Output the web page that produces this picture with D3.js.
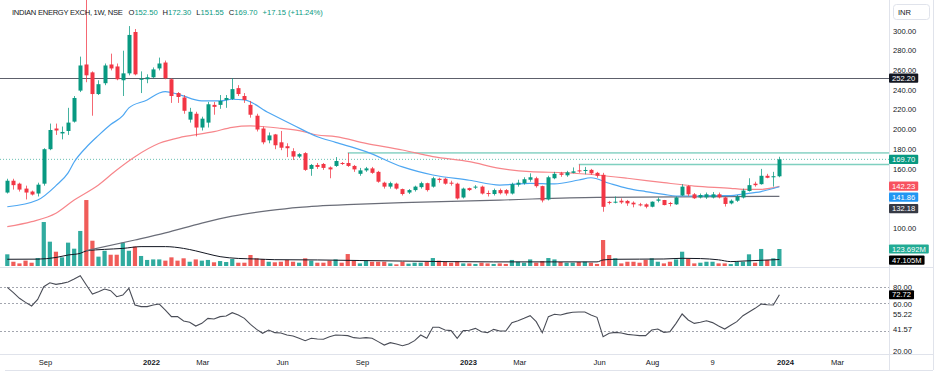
<!DOCTYPE html>
<html><head><meta charset="utf-8">
<script src="https://cdn.jsdelivr.net/npm/d3@7"></script>
<style>
body{margin:0;background:#fff;}
svg{display:block;font-family:"Liberation Sans",Arial,sans-serif;}
</style>
</head><body>
<svg id="c" width="940" height="379"></svg>
<script>
// ---------- DATA ----------
const firstWeek = "2021-07-19";   // weekly bars, Monday starts
const open  = [136,148,145,140,137,135,145,180,201,196,198.5,208,239.5,266,258,236,247,266,264,250,257,299,251,251,253,262,268,251,237,232.5,210,216,202,207,225,225,230,231,242,234,225,214,201,189,195,187,183,178,172.5,176,160,164,165,161.5,163,166,166,163,155,158.5,160.5,157,146,142,145,139.5,136,138.5,141.5,145.5,142,150,150,146,145,131,140.5,141,142,135.5,134.5,138.5,138.5,135,144,145.5,149,150.5,142.5,129,150.5,155.5,153.5,156,158.5,158.2,159,156,154,126.5,125.7,127.7,127.5,125.7,124,124,121.6,127.7,128.4,125.4,124,133,142.5,134.2,131,131.1,131,134.2,131,125,127.7,131,137.6,145,144.5,153,151.5,152.5];
const high  = [150,150,146,143,138,146,181,206,206,203,222,234,274,335,259,250,267,277,267,280,305,302,259,256,263,273,270,252,238,235,222,218,213,228,228,235,235,252,245,237,229,216,203,197,195.5,198.5,186,181,176,177,165,166,166,162.5,172,167,176.2,164,161,162,162,158,147,147,146,140,139.5,143,147,146,152,151,151,148,146,141,141,143.5,143,138,140,140,139.5,146,149,151.5,155.5,152,143,153,157,157,158,161.5,164.5,162,160,157,156,127.5,132,130,128.5,127,125.5,125,127,131,128.5,126.5,132,144.5,143.5,135.5,135,136,136.5,136,132,129,133.5,140,150.5,147,160,155,157,172.3];
const low   = [135,139,137,129,133,132,143,179,194.5,190,194.5,207,238,248,214,235,245,260,250,234,255,255,237,247,252,260,251,227,227,216,207,193,199,202,215,221,222,230,234,227,212,198,185,186,180,179,172,169,171,158,153,160,159,150.5,162,164,162,157,153,157,155,146,140,140,139,133,134.5,137,140,137,141,146,144,143,129,130,137.5,139.5,134,132,133,134,133,134,142,144,147,141,126,128,149.5,152,152,155.5,156,154.5,154,151,116.5,124,125,124.5,122.5,121,122,120,121,126,123,122,123.5,132.5,132.5,129.5,130,129.5,130,130,121.8,124,126.5,130,137,142,144,150.5,142,151.55];
const close = [148,143.5,139,136,134,144,180,199.5,199,197.5,207,232,265,255,236,246,265,262,251,257,296,256,251.5,253,261,267,252,234,233,219,218,202,211,225.6,223,229,232,241,236,230,215,200,187,194,184,181.5,181,172.5,175,159,164,162,161,159.5,168,165,163,159.5,158.5,160.5,156,147,142,145.5,140,134.5,138.5,142,145.5,138.5,150.5,148.7,145,145,130,140,138.5,142,135,134.8,138.5,135.3,135,144.5,146,149.5,151.5,142.5,128,151.5,155,154,156.5,157.5,158,158.9,155.5,153,121.5,125.7,126.7,126,125,124,123.3,121.6,126.7,129,123.3,124.8,131,142,134.2,130.2,133.5,134.2,134.2,131.1,124.4,127.7,131.8,138,143.5,143.5,153,151,152.55,169.7];
const volumeM = [85,31,19,39,24,58,320,177,104,63,170,126,255,480,184,68,111,82,82,170,111,141,73,44,48,48,39,63,39,56,31,48,39,44,27,36,29,51,24,24,80,56,51,31,27,31,44,31,24,56,39,24,24,39,48,24,87,39,19,39,31,31,31,19,12,31,17,24,24,29,58,39,31,24,34,19,19,15,24,19,15,19,15,44,31,24,48,24,36,58,48,29,24,24,29,31,24,15,189,80,56,19,31,31,24,44,56,31,19,31,48,104,51,19,24,31,31,19,19,14,31,31,85,24,124,44,56,123.692];
const rsi = [79.7,74.7,69.4,65.6,62.2,68.4,80.3,84,82.5,83.4,84.7,87.5,90.6,81.9,73.4,75.6,78.1,76.6,70.9,72.5,78.8,63.1,61.6,61.6,63.1,64,58.4,52.2,52.2,48.1,46.9,43.4,45.9,50.6,50,52.2,52.8,55.9,53.8,50.6,45,40.3,36.6,39.7,37.2,36.9,35,34.1,31.9,29.7,31.9,31.3,31,33.4,35,34.7,34.4,32.5,31.9,32.5,31.9,28.8,25.6,27.8,26.6,25,26.6,29.7,35,31.9,42.2,42.2,39.7,39.1,31.9,39.1,39.5,41.2,38.1,37.2,40.3,38.7,38.7,46.6,48.4,50.6,53.1,47.5,37.2,52.2,54.4,53.8,55.3,56.3,56.6,56.6,53.8,51.6,33.4,36.6,37.5,36.9,35.6,35,34.4,34.4,39.7,40.6,37.5,38.1,45.9,54.7,49.1,45.9,46.9,48.4,46.6,43.4,40.6,44.1,47.5,53.1,56.6,60,64,63.4,63.1,72.72];

// moving averages: week index -> value
const fastMaWeeks = [0,5,8,10,11,13,15,17,19,20,23,25,26,28,32,35,37,39,43,47,51,54,59,65,70,76,81,86,90,94,96,99,102,105,108,110,113,116,119,121,124,127];
const fastMaVals  = [121.6,128.4,143,156,167,182,194,205,214,222,230,237,238.4,236,229,229,230.7,230,217,204.6,192.7,187,177.5,162,153.8,148.5,143.6,145.4,144.7,148.7,151,145.4,140.3,137,134.2,132.5,132.5,132.9,132.9,134.5,137,141.86];
const slowMaWeeks = [0,4,8,11,15,18,21,25,29,34,37,40,45,48,51,54,59,65,70,76,81,86,92,97,102,108,113,119,121,124,127];
const slowMaVals  = [101.3,106.4,115,128.4,143.7,158.9,172.4,186,192.7,197.8,202.2,203.6,201.2,198.8,194.4,192.7,186,179.2,172.4,167.3,160.6,157.2,156.1,153.8,150.5,146,142.6,140.3,139.3,139.3,142.23];
const longMaWeeks = [13,21,26,32,37,43,48,51,57,65,81,97,110,127];
const longMaVals  = [77,87.8,95,105,112,117.6,121,122.3,124,125.7,128.4,131.1,131.5,132.18];
const volMaWeeks = [0,5,8,10,12,13,16,19,22,26,29,31,33,35,38,41,44,51,58,65,72,80,90,97,98,100,104,108,111,114,117,119,121,127];
const volMaVals  = [49,50,62,80,92,110,121,128,141,141,128,110,88,68,55,51,46,44,40,36,32,30,30,30,44,49,50,51,56,54,45,32,36,47.105];

const resistanceLevel = 252.2;
const rayA = {week:56, value:176.2};
const rayB = {week:94, value:164.5};
const rsiBands = [80,65,38.75];

const priceTicks = [300,280,260,240,220,200,180,160,100];
const rsiTicks = [80,60,20];
const timeTickDates  = ["2021-09-01","2022-01-01","2022-03-01","2022-06-01","2022-09-01","2023-01-01","2023-03-01","2023-06-01","2023-08-01","2023-10-09","2024-01-01","2024-03-01"];
const timeTickLabels = ["Sep","2022","Mar","Jun","Sep","2023","Mar","Jun","Aug","9","2024","Mar"];
const timeTickBold   = [false,true,false,false,false,true,false,false,false,false,true,false];

// ---------- LAYOUT ----------
const W = 940, H = 379;
const paneR = 889;
const mainTop = 0, mainBot = 267;
const rsiTop = 268, rsiBot = 354;
const axisBot = 370;
const GREEN = "#089981", RED = "#f23645";
const VGREEN = "#26a69a", VRED = "#ef5350";
const FS = 7.6;

const svg = d3.select("#c");
const parse = d3.utcParse("%Y-%m-%d");
const week0 = parse(firstWeek);
const dates = close.map((_, i) => d3.utcWeek.offset(week0, i));

const x = d3.scaleUtc().domain([dates[0], dates[dates.length - 1]]).range([7.3, 779.4]);
const y = d3.scaleLinear().domain([100, 300]).range([228, 31]);
const yv = d3.scaleLinear().domain([0, 123.692]).range([266, 249]);
const yr = d3.scaleLinear().domain([20, 80]).range([351, 287]);

const defs = svg.append("defs");
defs.append("clipPath").attr("id","mainClip").append("rect").attr("x",0).attr("y",mainTop).attr("width",paneR).attr("height",mainBot-mainTop);
defs.append("clipPath").attr("id","rsiClip").append("rect").attr("x",0).attr("y",rsiTop).attr("width",paneR).attr("height",rsiBot-rsiTop);

svg.append("rect").attr("width",W).attr("height",H).attr("fill","#fff");

// frame lines
const frame = svg.append("g").attr("stroke","#e0e3eb").attr("stroke-width",1);
frame.append("line").attr("x1",0).attr("x2",933).attr("y1",mainBot+0.5).attr("y2",mainBot+0.5);
frame.append("line").attr("x1",0).attr("x2",933).attr("y1",rsiBot+0.5).attr("y2",rsiBot+0.5);
frame.append("line").attr("x1",5).attr("x2",933).attr("y1",axisBot+0.5).attr("y2",axisBot+0.5);
frame.append("line").attr("x1",paneR+0.5).attr("x2",paneR+0.5).attr("y1",0).attr("y2",axisBot);
frame.append("line").attr("x1",933.5).attr("x2",933.5).attr("y1",0).attr("y2",axisBot);

const main = svg.append("g").attr("clip-path","url(#mainClip)");

// volume bars
const bw = 4.2;
main.append("g").selectAll("rect").data(volumeM).join("rect")
  .attr("x", (d,i) => x(dates[i]) - bw/2)
  .attr("y", d => yv(d))
  .attr("width", bw)
  .attr("height", d => yv(0) - yv(d))
  .attr("fill", (d,i) => close[i] >= open[i] ? VGREEN : VRED)
  .attr("opacity", 0.95);

// volume MA
main.append("path")
  .attr("d", d3.line().x((d,k) => x(dates[volMaWeeks[k]])).y(d => yv(d)).curve(d3.curveMonotoneX)(volMaVals))
  .attr("fill","none").attr("stroke","#131722").attr("stroke-width",1);

// horizontal levels
main.append("line").attr("x1",0).attr("x2",paneR).attr("y1",Math.round(y(resistanceLevel))+0.5).attr("y2",Math.round(y(resistanceLevel))+0.5)
  .attr("stroke","#5d606b").attr("stroke-width",1.2);
main.append("line").attr("x1",0).attr("x2",paneR).attr("y1",y(close[close.length-1])).attr("y2",y(close[close.length-1]))
  .attr("stroke",GREEN).attr("stroke-width",1).attr("stroke-dasharray","1,2").attr("opacity",0.6);
main.append("line").attr("x1",x(dates[rayA.week])).attr("x2",paneR).attr("y1",y(rayA.value)).attr("y2",y(rayA.value))
  .attr("stroke","#4dbba6").attr("stroke-width",1);
main.append("line").attr("x1",x(dates[rayB.week])).attr("x2",paneR).attr("y1",y(rayB.value)).attr("y2",y(rayB.value))
  .attr("stroke","#7fd0c0").attr("stroke-width",1.6);

// moving averages on price
const maLine = (weeks) => d3.line().x((d,k) => x(dates[weeks[k]])).y(d => y(d)).curve(d3.curveMonotoneX);
main.append("path").attr("d", maLine(longMaWeeks)(longMaVals)).attr("fill","none").attr("stroke","#6a6d78").attr("stroke-width",1.2);
main.append("path").attr("d", maLine(slowMaWeeks)(slowMaVals)).attr("fill","none").attr("stroke","#f7868b").attr("stroke-width",1.2);
main.append("path").attr("d", maLine(fastMaWeeks)(fastMaVals)).attr("fill","none").attr("stroke","#4ea7f2").attr("stroke-width",1.2);

// candles
const cg = main.append("g").selectAll("g").data(close).join("g");
cg.append("line")
  .attr("x1", (d,i) => Math.round(x(dates[i])) + 0.5)
  .attr("x2", (d,i) => Math.round(x(dates[i])) + 0.5)
  .attr("y1", (d,i) => y(high[i])).attr("y2", (d,i) => y(low[i]))
  .attr("stroke", (d,i) => close[i] >= open[i] ? GREEN : RED).attr("stroke-width",1).attr("opacity",0.75);
cg.append("rect")
  .attr("x", (d,i) => Math.round(x(dates[i])) + 0.5 - 2)
  .attr("y", (d,i) => y(Math.max(open[i], close[i])))
  .attr("width", 4)
  .attr("height", (d,i) => Math.max(1, Math.abs(y(open[i]) - y(close[i]))))
  .attr("fill", (d,i) => close[i] >= open[i] ? GREEN : RED);

// ---------- RSI pane ----------
const rp = svg.append("g").attr("clip-path","url(#rsiClip)");
rp.selectAll("line.band").data(rsiBands).join("line").attr("class","band")
  .attr("x1",0).attr("x2",paneR).attr("y1",d => Math.round(yr(d))+0.5).attr("y2",d => Math.round(yr(d))+0.5)
  .attr("stroke","#a3a6af").attr("stroke-width",1).attr("stroke-dasharray","2,2");
rp.append("path").attr("d", d3.line().x((d,i) => x(dates[i])).y(d => yr(d))(rsi))
  .attr("fill","none").attr("stroke","#4a4d57").attr("stroke-width",1.1);

// ---------- header ----------
const hdr = svg.append("text").attr("x",12).attr("y",15).attr("font-size",FS).attr("fill","#131722");
hdr.append("tspan").attr("letter-spacing",-0.28).text("INDIAN ENERGY EXCH, 1W, NSE");
const ohlc = [["O","152.50"],["H","172.30"],["L","151.55"],["C","169.70"]];
ohlc.forEach(([k,v],j) => {
  hdr.append("tspan").attr("dx", j===0 ? 6 : 5).text(k);
  hdr.append("tspan").attr("fill",GREEN).text(v);
});
hdr.append("tspan").attr("dx",5).attr("fill",GREEN).text("+17.15 (+11.24%)");

// ---------- price axis ----------
const ax = svg.append("g").attr("font-size",FS).attr("fill","#131722");
ax.selectAll("text.pt").data(priceTicks).join("text").attr("class","pt")
  .attr("x",893).attr("y",d => y(d)).attr("dy","0.35em").text(d => d3.format(".2f")(d));
ax.selectAll("text.rt").data(rsiTicks).join("text").attr("class","rt")
  .attr("x",893).attr("y",d => yr(d) - (d === 60 ? 4 : 0)).attr("dy","0.35em").text(d => d3.format(".2f")(d));

// INR box
svg.append("rect").attr("x",893.5).attr("y",4.5).attr("width",36).attr("height",15).attr("rx",3)
  .attr("fill","#fff").attr("stroke","#e0e3eb");
svg.append("text").attr("x",898).attr("y",12).attr("dy","0.35em").attr("font-size",FS).attr("fill","#131722").text("INR");

// label boxes
function tag(cy, txt, bg, fg){
  const g = svg.append("g");
  const r = g.append("rect").attr("x",889).attr("y",cy-4.6).attr("height",9.2).attr("fill",bg).attr("rx",1);
  const t = g.append("text").attr("x",892).attr("y",cy).attr("dy","0.35em").attr("font-size",FS).attr("fill",fg).text(txt);
  const w = t.node().getComputedTextLength();
  r.attr("width", w + 6);
}
tag(y(resistanceLevel), "252.20", "#131722", "#fff");
tag(y(close[close.length-1]), "169.70", GREEN, "#fff");
tag(186.2, "142.23", "#f7525f", "#fff");
tag(197.2, "141.86", "#2196f3", "#fff");
tag(208.6, "132.18", "#363a45", "#fff");
tag(yv(volumeM[volumeM.length-1]), "123.692M", "#22ab94", "#fff");
tag(260.2, "47.105M", "#000", "#fff");
tag(yr(rsi[rsi.length-1]), "72.72", "#000", "#fff");
// plain RSI level labels
[[314,"55.22"],[329,"41.57"]].forEach(([cy,t]) => {
  svg.append("rect").attr("x",890).attr("y",cy-4.2).attr("width",26).attr("height",8.4).attr("fill","#fff");
  svg.append("text").attr("x",893).attr("y",cy).attr("dy","0.35em").attr("font-size",FS).attr("fill","#131722").text(t);
});

// ---------- time axis ----------
const tg = svg.append("g").attr("font-size",FS).attr("fill","#131722");
tg.selectAll("text").data(timeTickDates).join("text")
  .attr("x", d => x(parse(d))).attr("y",362).attr("dy","0.35em").attr("text-anchor","middle")
  .attr("font-weight",(d,i) => timeTickBold[i] ? "bold" : "normal")
  .text((d,i) => timeTickLabels[i]);
</script>
</body></html>
